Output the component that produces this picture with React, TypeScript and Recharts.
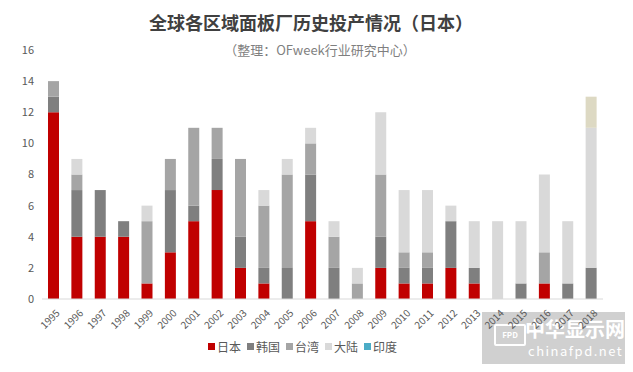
import React from "react";
import { BarChart, Bar, XAxis, YAxis, Legend } from "recharts";

const years = [
  "1995", "1996", "1997", "1998", "1999", "2000", "2001", "2002", "2003", "2004", "2005", "2006",
  "2007", "2008", "2009", "2010", "2011", "2012", "2013", "2014", "2015", "2016", "2017", "2018",
];
const japan = [12, 4, 4, 4, 1, 3, 5, 7, 2, 1, 0, 5, 0, 0, 2, 1, 1, 2, 1, 0, 0, 1, 0, 0];
const korea = [1, 3, 3, 1, 0, 4, 1, 2, 2, 1, 2, 3, 2, 0, 2, 1, 1, 3, 1, 0, 1, 0, 1, 2];
const taiwan = [1, 1, 0, 0, 4, 2, 5, 2, 5, 4, 6, 2, 2, 1, 4, 1, 1, 0, 0, 0, 0, 2, 0, 0];
const mainland = [0, 1, 0, 0, 1, 0, 0, 0, 0, 1, 1, 1, 1, 1, 4, 4, 4, 1, 3, 5, 4, 5, 4, 9];
const india = [0, 0, 0, 0, 0, 0, 0, 0, 0, 0, 0, 0, 0, 0, 0, 0, 0, 0, 0, 0, 0, 0, 0, 0];
const other = [0, 0, 0, 0, 0, 0, 0, 0, 0, 0, 0, 0, 0, 0, 0, 0, 0, 0, 0, 0, 0, 0, 0, 2];
const yTicks = [0, 2, 4, 6, 8, 10, 12, 14, 16];

const series = [
  { key: "japan", name: "日本", color: "#c00000" },
  { key: "korea", name: "韩国", color: "#7f7f7f" },
  { key: "taiwan", name: "台湾", color: "#a5a5a5" },
  { key: "mainland", name: "大陆", color: "#d9d9d9" },
  { key: "india", name: "印度", color: "#4bacc6" },
];

const data = years.map((y, i) => ({
  year: y,
  japan: japan[i],
  korea: korea[i],
  taiwan: taiwan[i],
  mainland: mainland[i],
  india: india[i],
  other: other[i],
}));

const font = '"Noto Sans CJK SC", "Noto Sans", sans-serif';

function YearTick(props: any) {
  const { x, y, payload } = props;
  return (
    <g transform={`translate(${x + 4},${y + 4})`}>
      <text
        x={0}
        y={0}
        dy={4}
        textAnchor="end"
        transform="rotate(-45)"
        fontSize={10}
        fill="#595959"
        fontFamily={font}
      >
        {payload.value}
      </text>
    </g>
  );
}

function LegendBox() {
  return (
    <div style={{ height: 18, display: "flex", justifyContent: "center", alignItems: "center", fontSize: 12, color: "#595959", fontFamily: font }}>
      {series.map((s) => (
        <span key={s.key} style={{ display: "inline-flex", alignItems: "center", marginRight: 6 }}>
          <span style={{ width: 7, height: 7, background: s.color, display: "inline-block", marginRight: 2 }} />
          {s.name}
        </span>
      ))}
    </div>
  );
}

export default function App() {
  return (
    <div style={{ position: "relative", width: 633, height: 372, margin: -8, background: "#fff", fontFamily: font }}>
      <div
        style={{
          position: "absolute",
          top: 9,
          left: 0,
          width: 622,
          textAlign: "center",
          fontSize: 18,
          fontWeight: "bold",
          color: "#404040",
        }}
      >
        全球各区域面板厂历史投产情况（日本）
      </div>
      <div
        style={{
          position: "absolute",
          top: 40,
          left: 0,
          width: 640,
          textAlign: "center",
          fontSize: 13,
          color: "#7f7f7f",
        }}
      >
        （整理：OFweek行业研究中心）
      </div>
      <div
        style={{
          position: "absolute",
          left: 482,
          top: 312,
          width: 145,
          height: 55,
          background: "rgba(200,200,200,0.85)",
          color: "#fff",
        }}
      >
        <div
          style={{
            position: "absolute",
            left: 12,
            top: 12,
            width: 28,
            height: 18,
            border: "2px solid #fff",
            borderRadius: 2,
            fontSize: 8,
            fontWeight: "bold",
            textAlign: "center",
            lineHeight: "18px",
          }}
        >
          FPD
        </div>
        <div style={{ position: "absolute", left: 43, top: 4, fontSize: 20, fontWeight: "bold", lineHeight: "26px" }}>中华显示网</div>
        <div style={{ position: "absolute", left: 46, top: 31, fontSize: 13, lineHeight: "16px", letterSpacing: 1.5 }}>chinafpd.net</div>
      </div>
      <BarChart
        width={633}
        height={372}
        data={data}
        margin={{ top: 50, right: 30, left: 8, bottom: 17 }}
        barSize={11}
      >
        <XAxis
          dataKey="year"
          interval={0}
          height={38}
          tickLine={false}
          axisLine={{ stroke: "#d9d9d9" }}
          tick={<YearTick />}
        />
        <YAxis
          width={34}
          domain={[0, 16]}
          ticks={yTicks}
          axisLine={false}
          tickLine={false}
          tick={{ fontSize: 11, fill: "#595959", fontFamily: font }}
        />
        <Legend verticalAlign="bottom" align="center" height={18} content={<LegendBox />} />
        {series.map((s) => (
          <Bar key={s.key} dataKey={s.key} name={s.name} stackId="a" fill={s.color} isAnimationActive={false} />
        ))}
        <Bar dataKey="other" name="其他" stackId="a" fill="#ddd9c3" legendType="none" isAnimationActive={false} />
      </BarChart>
    </div>
  );
}
